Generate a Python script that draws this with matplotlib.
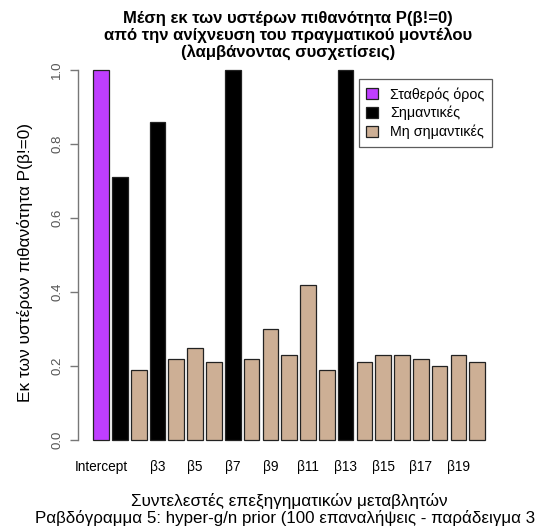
import matplotlib
matplotlib.use("Agg")
import matplotlib.pyplot as plt
from matplotlib.patches import Patch

plt.rcParams['font.family'] = ['Liberation Sans', 'DejaVu Sans']

# Posterior inclusion probabilities per coefficient
categories = ["Intercept"] + [f"β{i}" for i in range(1, 21)]
values = [1.00, 0.71, 0.19, 0.86, 0.22, 0.25, 0.21, 1.00, 0.22, 0.30, 0.23,
          0.42, 0.19, 1.00, 0.21, 0.23, 0.23, 0.22, 0.20, 0.23, 0.21]
# 0 = intercept, 1 = significant, 2 = non-significant
groups = [0, 1, 2, 1, 2, 2, 2, 1, 2, 2, 2, 2, 2, 1, 2, 2, 2, 2, 2, 2, 2]
shown_labels = ["Intercept", "β3", "β5", "β7", "β9", "β11", "β13", "β15", "β17", "β19"]
legend_labels = ["Σταθερός όρος", "Σημαντικές", "Μη σημαντικές"]
group_colors = ["#BF3EFF", "#000000", "#CDAF95"]

W, H = 540, 529
fig = plt.figure(figsize=(W / 100, H / 100), dpi=100)
ax = fig.add_axes([77.6 / W, 1 - 454.8 / H, (500.7 - 77.6) / W, (454.8 - 55.2) / H])

width = 1.0
space = 0.2
centers = [space + width / 2 + i * (width + space) for i in range(len(values))]
ax.bar(centers, values, width=width, color=[group_colors[g] for g in groups],
       edgecolor="#222222", linewidth=0.9)

ax.set_xlim(-0.8, 26.2)
ax.set_ylim(-0.04, 1.04)

for s in ["top", "right", "bottom"]:
    ax.spines[s].set_visible(False)
ax.spines["left"].set_bounds(0, 1)
ax.spines["left"].set_color("#777777")
ax.spines["left"].set_linewidth(1.0)

ax.set_yticks([0.0, 0.2, 0.4, 0.6, 0.8, 1.0])
ax.set_yticklabels(["0.0", "0.2", "0.4", "0.6", "0.8", "1.0"], rotation=90,
                   va="center", fontsize=9.5, color="#555555")
ax.tick_params(axis="y", direction="out", length=5.5, width=1.0, color="#777777", pad=5)

pos = {c: centers[i] for i, c in enumerate(categories)}
ax.set_xticks([pos[c] for c in shown_labels])
ax.set_xticklabels(shown_labels, fontsize=9.8)
ax.tick_params(axis="x", length=0, pad=4)

handles = [Patch(facecolor=c, edgecolor="#222222", linewidth=0.9) for c in group_colors]
leg = fig.legend(handles, legend_labels, loc="upper right",
                 bbox_to_anchor=(492.3 / W, 1 - 79.3 / H), fontsize=10.3,
                 frameon=True, fancybox=False, edgecolor="#333333",
                 handlelength=0.8, handleheight=0.8, handletextpad=0.85,
                 labelspacing=0.3, borderpad=0.55, borderaxespad=0)
leg.get_frame().set_linewidth(0.9)

title_lines = ["Μέση εκ των υστέρων πιθανότητα P(β!=0)",
               "από την ανίχνευση του πραγματικού μοντέλου",
               "(λαμβάνοντας συσχετίσεις)"]
for ty, t in zip([18.5, 35.2, 51.9], title_lines):
    fig.text(288 / W, 1 - ty / H, t, ha="center", va="center",
             fontsize=12, fontweight="bold")

fig.text(25 / W, 1 - 262 / H, "Εκ των υστέρων πιθανότητα P(β!=0)", rotation=90,
         ha="center", va="center", fontsize=12.4)

fig.text(289 / W, 1 - 500.5 / H, "Συντελεστές επεξηγηματικών μεταβλητών",
         ha="center", va="center", fontsize=12.3)
fig.text(35 / W, 1 - 518.5 / H,
         "Ραβδόγραμμα 5: hyper-g/n prior (100 επαναλήψεις - παράδειγμα 3",
         ha="left", va="center", fontsize=12.2)

fig.savefig("out.png", dpi=100)
